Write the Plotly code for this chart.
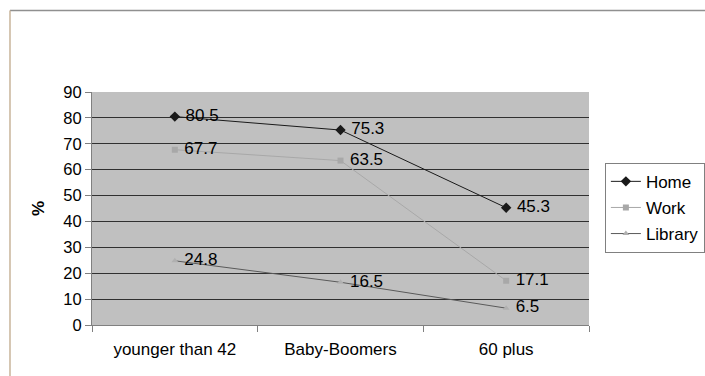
import plotly.graph_objects as go

# Share of users by age group and place of access
categories = ["younger than 42", "Baby-Boomers", "60 plus"]
home = [80.5, 75.3, 45.3]
work = [67.7, 63.5, 17.1]
library = [24.8, 16.5, 6.5]
y_ticks = [0, 10, 20, 30, 40, 50, 60, 70, 80, 90]

FONT = "Liberation Sans, Arial, sans-serif"

series = [
    ("Home", home, "#1a1a1a", "#1a1a1a", "diamond", 8),
    ("Work", work, "#a8a8a8", "#a8a8a8", "square", 6),
    ("Library", library, "#5a5a5a", "#b0b0b0", "triangle-up", 6),
]

fig = go.Figure()
for name, vals, line_col, mark_col, sym, size in series:
    fig.add_trace(go.Scatter(
        x=categories, y=vals, name=name, legendgroup=name,
        mode="lines+markers+text",
        # non-breaking space keeps the value a little clear of its marker
        text=[f"\u00a0{v:.1f}" for v in vals],
        textposition="middle right",
        textfont=dict(family=FONT, size=17, color="#000000"),
        line=dict(color=line_col, width=1),
        marker=dict(symbol=sym, size=size, color=mark_col,
                    line=dict(width=0)),
        cliponaxis=False,
    ))

fig.update_layout(
    width=705, height=376,
    margin=dict(l=92, r=116, t=92, b=51),
    paper_bgcolor="#ffffff",
    plot_bgcolor="#c0c0c0",
    font=dict(family=FONT, size=17, color="#000000"),
    showlegend=True,
    legend=dict(
        xref="container", yref="container",
        x=0.858, y=0.567, xanchor="left", yanchor="top",
        bgcolor="#ffffff", bordercolor="#808080", borderwidth=1,
        font=dict(family=FONT, size=17),
        tracegroupgap=1, itemwidth=30,
    ),
    xaxis=dict(
        type="category", tickson="boundaries",
        ticks="outside", ticklen=6, tickcolor="#808080",
        showline=True, linecolor="#808080", linewidth=1,
        showgrid=False, zeroline=False,
        tickfont=dict(family=FONT, size=17),
        ticklabelstandoff=9,
        range=[-0.5, 2.5],
    ),
    yaxis=dict(
        range=[0, 90], tickvals=y_ticks,
        ticks="outside", ticklen=6, tickcolor="#808080",
        showline=True, linecolor="#808080", linewidth=1,
        showgrid=True, gridcolor="#303030", gridwidth=1,
        zeroline=False,
        tickfont=dict(family=FONT, size=16.5),
        title=dict(text="<b>%</b>", font=dict(family=FONT, size=17), standoff=14),
    ),
    shapes=[
        dict(type="line", xref="paper", yref="paper",
             x0=-0.165, x1=1.3, y0=1.35, y1=1.35,
             line=dict(color="#909090", width=1.5)),
        dict(type="line", xref="paper", yref="paper",
             x0=-0.165, x1=-0.165, y0=1.35, y1=-0.25,
             line=dict(color="#c8b49a", width=1.5)),
    ],
)

fig.write_html("out.html")
